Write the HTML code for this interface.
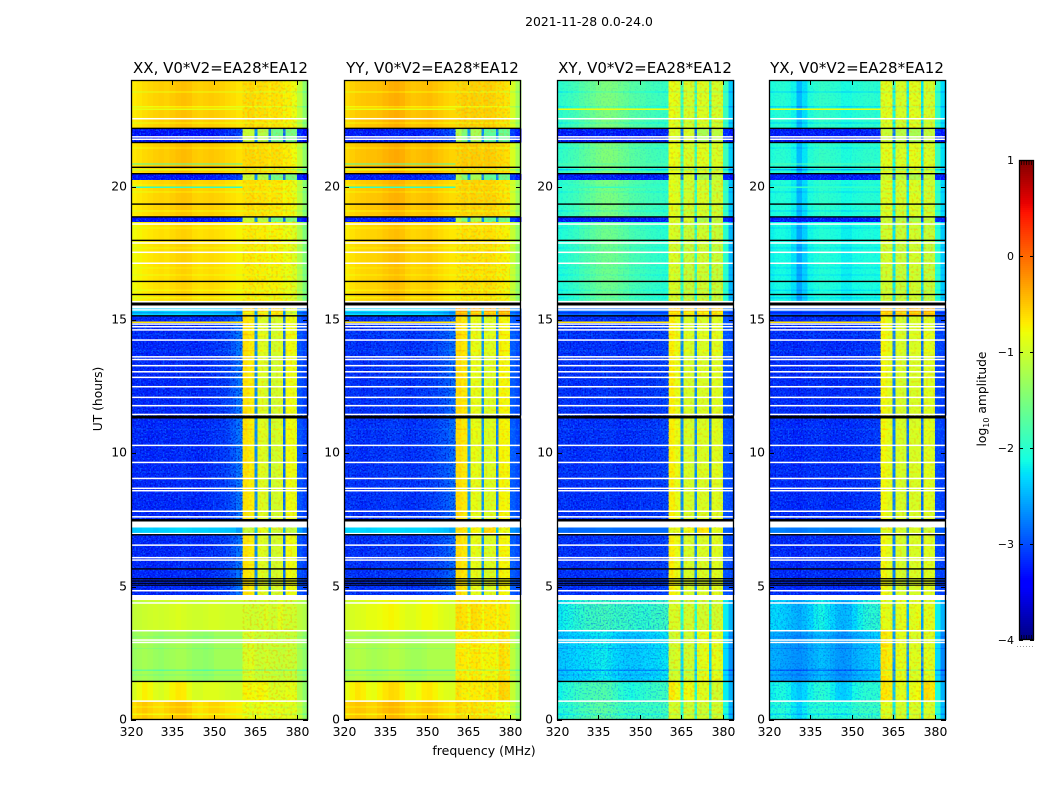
<!DOCTYPE html>
<html lang="en">
<head>
<meta charset="utf-8">
<title>2021-11-28 0.0-24.0</title>
<style>
html,body{margin:0;padding:0;background:#fff;width:1050px;height:800px;overflow:hidden}
svg{display:block}
text{font-family:"DejaVu Sans","Liberation Sans",sans-serif;fill:#000}
</style>
</head>
<body>
<svg id="chart" xmlns="http://www.w3.org/2000/svg" width="1050" height="800" viewBox="0 0 1050 800">
<defs>
<filter id="noiseAzure" x="0" y="0" width="100%" height="100%" color-interpolation-filters="sRGB"><feTurbulence type="fractalNoise" baseFrequency="0.6" numOctaves="1" seed="3"/><feColorMatrix type="matrix" values="0 0 0 0 0.05  0 0 0 0 0.5  0 0 0 0 1  7 0 0 0 -3.6"/></filter>
<filter id="noiseDark" x="0" y="0" width="100%" height="100%" color-interpolation-filters="sRGB"><feTurbulence type="fractalNoise" baseFrequency="0.6" numOctaves="1" seed="11"/><feColorMatrix type="matrix" values="0 0 0 0 0  0 0 0 0 0  0 0 0 0 0.72  7 0 0 0 -3.6"/></filter>
<filter id="noiseWarm" x="0" y="0" width="100%" height="100%" color-interpolation-filters="sRGB"><feTurbulence type="fractalNoise" baseFrequency="0.42" numOctaves="1" seed="23"/><feColorMatrix type="matrix" values="0 0 0 0 1  0 0 0 0 0.55  0 0 0 0 0  7 0 0 0 -3.6"/></filter>
<filter id="noiseCool" x="0" y="0" width="100%" height="100%" color-interpolation-filters="sRGB"><feTurbulence type="fractalNoise" baseFrequency="0.42" numOctaves="1" seed="37"/><feColorMatrix type="matrix" values="0 0 0 0 0.55  0 0 0 0 1  0 0 0 0 0.4  7 0 0 0 -3.6"/></filter>
</defs>
<rect width="1050" height="800" fill="#fff"/>
<text x="589" y="26" font-size="12.4" text-anchor="middle">2021-11-28 0.0-24.0</text>
<text x="0" y="0" font-size="12.3" text-anchor="middle" transform="translate(102 399) rotate(-90)">UT (hours)</text>
<text x="484" y="755" font-size="12.5" text-anchor="middle">frequency (MHz)</text>
<text x="0" y="0" font-size="12.3" text-anchor="middle" transform="translate(986 399) rotate(-90)">log<tspan font-size="8" dy="3">10</tspan><tspan dy="-3"> amplitude</tspan></text>
<g id="panels"></g>
<g id="colorbar"></g>
</svg>
<script>
// Frequency bin edges (MHz) of the heatmap columns
const freqEdges = [320,322,324,326,328,330,332,334,336,338,340,342,344,346,348,350,352,354,356,358,360.4,362.5,364.7,365.7,368,369.7,370.7,373,374.9,375.9,378,380,382,384];

// Axis tick labels
const freqTicks = [320,335,350,365,380];
const hourTicks = [0,5,10,15,20];
const colorTicks = [-4,-3,-2,-1,0,1];

// log10 amplitude per frequency bin, per observing state
const xxDay   = [-.66,-.62,-.58,-.55,-.52,-.5,-.52,-.48,-.44,-.42,-.44,-.5,-.52,-.5,-.48,-.5,-.52,-.56,-.58,-.62,-.58,-.55,-.62,-.58,-.6,-.66,-.6,-.62,-.72,-.68,-.78,-1.05,-1.35];
const xxGap   = [-3.3,-3.3,-3.28,-3.3,-3.32,-3.3,-3.28,-3.3,-3.3,-3.28,-3.3,-3.32,-3.3,-3.28,-3.3,-3.25,-3.2,-3.15,-3.1,-3.05,-1.05,-1.05,-2.7,-1.15,-1.2,-2.8,-1.6,-1.6,-2.9,-1.55,-1.55,-3.2,-3.35];
const xxQuiet = [-3.2,-3.18,-3.2,-3.22,-3.2,-3.18,-3.2,-3.2,-3.18,-3.15,-3.18,-3.2,-3.2,-3.18,-3.15,-3.12,-3.1,-3.05,-2.95,-2.8,-.65,-.72,-2.7,-.9,-.95,-2.75,-1,-.95,-2.85,-.8,-.85,-3,-3.1];
const xxCalA  = [-2.35,-2.35,-2.32,-2.35,-2.38,-2.35,-2.32,-2.32,-2.3,-2.3,-2.32,-2.35,-2.35,-2.35,-2.35,-2.38,-2.4,-2.42,-2.45,-2.6,-.55,-.6,-2.5,-.6,-.65,-2.5,-.55,-.55,-2.6,-.9,-.9,-2.7,-2.8];
const xxCalB  = [-2.4,-2.38,-2.35,-2.35,-2.38,-2.35,-2.35,-2.32,-2.3,-2.3,-2.32,-2.35,-2.35,-2.35,-2.38,-2.38,-2.4,-2.42,-2.45,-2.6,-1.05,-1.05,-2.4,-.85,-.9,-2.4,-1,-1,-2.5,-1.1,-1.1,-2.6,-2.8];
const xxLowA  = [-1.08,-1.05,-1.02,-1,-.98,-1,-.98,-.95,-.92,-.95,-.98,-1,-1,-.98,-.95,-.95,-.98,-1,-1,-1,-.98,-1,-1,-.98,-.92,-1,-1,-.88,-1,-.98,-1,-1.1,-1.18];
const xxLowB  = [-1.32,-1.28,-1.25,-1.28,-1.32,-1.35,-1.3,-1.28,-1.25,-1.25,-1.3,-1.35,-1.35,-1.38,-1.35,-1.28,-1.28,-1.28,-1.28,-1.28,-.95,-.9,-1,-1.02,-.98,-1.02,-1.02,-1.05,-1.05,-1.02,-1.05,-1.25,-1.38];
const xxLowC  = [-.95,-.82,-.72,-.78,-.9,-.95,-.88,-.75,-.68,-.7,-.85,-.95,-.95,-.9,-.9,-.9,-.95,-.98,-1,-1,-.75,-.78,-.8,-.75,-.8,-.92,-.92,-.9,-.92,-.85,-.88,-1.2,-1.4];
const xxLowD  = [-.62,-.55,-.5,-.55,-.6,-.62,-.56,-.5,-.46,-.46,-.52,-.62,-.66,-.62,-.56,-.56,-.6,-.65,-.68,-.72,-.8,-.85,-.85,-.8,-.82,-.88,-.85,-.85,-.88,-.88,-.88,-1.1,-1.35];

const yyDay   = [-.58,-.52,-.48,-.46,-.44,-.44,-.42,-.38,-.34,-.32,-.35,-.42,-.46,-.44,-.42,-.4,-.44,-.48,-.52,-.55,-.55,-.5,-.55,-.5,-.52,-.55,-.5,-.52,-.58,-.58,-.62,-.92,-1.2];
const yyGap   = [-3.25,-3.25,-3.22,-3.25,-3.28,-3.25,-3.25,-3.25,-3.22,-3.2,-3.25,-3.25,-3.25,-3.22,-3.2,-3.2,-3.15,-3.1,-3.05,-3,-1.2,-1.5,-2.6,-1.25,-1.25,-2.7,-1.7,-1.7,-2.7,-1.65,-1.65,-3.1,-3.3];
const yyQuiet = [-3.15,-3.12,-3.15,-3.18,-3.15,-3.12,-3.15,-3.12,-3.1,-3.1,-3.12,-3.15,-3.15,-3.12,-3.1,-3.08,-3.05,-3,-2.95,-2.85,-.62,-.7,-2.6,-.85,-.9,-2.65,-.95,-.92,-2.75,-.75,-.78,-2.95,-3.05];
const yyCalA  = [-2.3,-2.28,-2.3,-2.32,-2.3,-2.28,-2.3,-2.28,-2.25,-2.25,-2.28,-2.3,-2.3,-2.3,-2.28,-2.3,-2.35,-2.38,-2.45,-2.55,-.3,-.32,-2.3,-.4,-.42,-2.3,-.35,-.4,-2.4,-.3,-.32,-2.7,-2.8];
const yyCalB  = [-2.35,-2.32,-2.3,-2.32,-2.35,-2.32,-2.3,-2.28,-2.28,-2.28,-2.3,-2.32,-2.32,-2.32,-2.32,-2.35,-2.38,-2.4,-2.45,-2.55,-.62,-.68,-2.3,-.75,-.78,-2.3,-.6,-.65,-2.4,-.8,-.85,-2.65,-2.75];
const yyLowA  = [-.98,-.95,-.92,-.9,-.85,-.85,-.82,-.78,-.75,-.78,-.85,-.9,-.9,-.85,-.78,-.78,-.82,-.88,-.92,-.95,-.62,-.66,-.8,-.62,-.66,-.8,-.68,-.7,-.8,-.68,-.72,-1,-1.15];
const yyLowB  = [-1.22,-1.18,-1.15,-1.18,-1.22,-1.25,-1.22,-1.2,-1.15,-1.15,-1.2,-1.25,-1.28,-1.28,-1.25,-1.2,-1.2,-1.2,-1.2,-1.2,-.68,-.7,-.78,-.68,-.7,-.8,-.76,-.76,-.85,-.62,-.68,-1.1,-1.3];
const yyLowC  = [-.85,-.75,-.66,-.72,-.82,-.85,-.75,-.66,-.6,-.62,-.72,-.85,-.88,-.8,-.7,-.68,-.75,-.85,-.9,-.92,-.65,-.72,-.76,-.7,-.72,-.78,-.66,-.7,-.78,-.56,-.6,-1.05,-1.3];
const yyLowD  = [-.58,-.52,-.48,-.5,-.55,-.56,-.5,-.44,-.4,-.42,-.48,-.55,-.58,-.54,-.5,-.48,-.52,-.58,-.62,-.66,-.56,-.62,-.68,-.6,-.64,-.72,-.65,-.68,-.8,-.78,-.8,-1.05,-1.3];

const xyDay   = [-1.95,-1.9,-1.85,-1.8,-1.72,-1.65,-1.58,-1.5,-1.45,-1.45,-1.48,-1.55,-1.6,-1.68,-1.72,-1.75,-1.8,-1.82,-1.85,-1.88,-.8,-.85,-1.9,-.92,-.95,-1.9,-.88,-.9,-2,-.92,-.95,-1.85,-2.35];
const xyGap   = [-3.25,-3.25,-3.22,-3.25,-3.28,-3.25,-3.22,-3.25,-3.25,-3.22,-3.25,-3.28,-3.25,-3.22,-3.25,-3.25,-3.25,-3.22,-3.2,-3.2,-.92,-.95,-2.8,-.95,-1,-2.9,-1.25,-1.25,-2.9,-1.12,-1.12,-3.2,-3.3];
const xyQuiet = [-3.15,-3.12,-3.15,-3.18,-3.15,-3.15,-3.15,-3.15,-3.12,-3.12,-3.15,-3.18,-3.18,-3.15,-3.15,-3.12,-3.12,-3.1,-3.1,-3.05,-.72,-.85,-2.7,-.95,-1,-2.7,-.95,-.95,-2.8,-.9,-.95,-3,-3.05];
const xyCalA  = [-2.85,-2.85,-2.88,-2.9,-2.85,-2.85,-2.85,-2.82,-2.8,-2.82,-2.85,-2.85,-2.85,-2.88,-2.85,-2.85,-2.85,-2.85,-2.85,-2.85,-.5,-.5,-2.6,-.55,-.6,-2.6,-.55,-.55,-2.7,-.5,-.55,-2.8,-2.9];
const xyCalB  = [-2.85,-2.85,-2.88,-2.85,-2.85,-2.85,-2.85,-2.82,-2.82,-2.82,-2.85,-2.85,-2.85,-2.85,-2.85,-2.85,-2.85,-2.85,-2.85,-2.85,-.9,-.85,-2.6,-.8,-.85,-2.6,-.65,-.7,-2.7,-.85,-.9,-2.9,-2.95];
const xyLowA  = [-2.2,-2.15,-2.1,-2.02,-1.98,-1.92,-1.9,-1.88,-1.85,-1.88,-1.92,-1.92,-1.92,-1.95,-1.98,-1.98,-1.98,-1.92,-1.92,-1.9,-.95,-.95,-2.1,-1,-1,-2.1,-1,-1,-2.15,-1,-1,-2.2,-2.5];
const xyLowB  = [-2.38,-2.36,-2.32,-2.3,-2.28,-2.26,-2.22,-2.2,-2.18,-2.22,-2.28,-2.32,-2.36,-2.36,-2.36,-2.32,-2.3,-2.28,-2.25,-2.22,-1,-.95,-2.3,-1,-1,-2.3,-.9,-.85,-2.3,-.85,-.9,-2.3,-2.65];
const xyLowC  = [-2.15,-2.05,-2,-1.92,-1.88,-1.84,-1.8,-1.78,-1.76,-1.8,-1.9,-2,-2.05,-2.1,-2.05,-2,-1.95,-1.92,-1.9,-1.9,-.7,-.8,-2.1,-.8,-.85,-2.1,-.9,-.9,-2.2,-1,-1,-2.2,-2.5];
const xyLowD  = [-2.05,-2,-1.95,-1.88,-1.82,-1.78,-1.72,-1.68,-1.68,-1.72,-1.78,-1.85,-1.88,-1.9,-1.88,-1.88,-1.88,-1.88,-1.88,-1.85,-.95,-.98,-2,-1,-1,-2,-1,-1,-2,-.98,-1,-2.05,-2.5];

const yxDay   = [-2.05,-2,-1.98,-2.02,-2.12,-2.42,-2.22,-2.02,-1.95,-1.9,-1.92,-1.95,-1.98,-2.06,-2.06,-2,-1.98,-1.95,-1.95,-1.98,-.88,-.85,-2.1,-.92,-.92,-2.15,-.85,-.88,-2.2,-.92,-.95,-1.9,-2.25];
const yxGap   = [-3.25,-3.25,-3.22,-3.25,-3.28,-3.28,-3.25,-3.25,-3.25,-3.22,-3.25,-3.28,-3.25,-3.25,-3.25,-3.25,-3.25,-3.22,-3.2,-3.2,-1.05,-1.05,-2.8,-1.15,-1.15,-2.9,-1.25,-1.25,-2.95,-1.1,-1.1,-3.2,-3.3];
const yxQuiet = [-3.18,-3.15,-3.18,-3.18,-3.2,-3.22,-3.18,-3.15,-3.15,-3.15,-3.18,-3.18,-3.18,-3.18,-3.18,-3.15,-3.15,-3.12,-3.12,-3.1,-.78,-.88,-2.75,-.95,-1,-2.8,-.95,-.95,-2.85,-.9,-.95,-3.05,-3.1];
const yxCalA  = [-2.95,-2.95,-2.95,-2.95,-3,-3,-2.95,-2.95,-2.95,-2.92,-2.95,-2.95,-2.95,-2.95,-2.95,-2.95,-2.95,-2.92,-2.92,-2.92,-.45,-.42,-2.7,-.42,-.45,-2.7,-.35,-.38,-2.8,-.35,-.4,-2.9,-2.95];
const yxCalB  = [-2.75,-2.75,-2.75,-2.78,-2.8,-2.8,-2.78,-2.75,-2.75,-2.72,-2.75,-2.78,-2.78,-2.78,-2.78,-2.75,-2.75,-2.72,-2.72,-2.7,-.9,-.85,-2.6,-.95,-1,-2.6,-.95,-.95,-2.7,-1,-1,-2.9,-2.95];
const yxLowA  = [-2.28,-2.28,-2.32,-2.38,-2.46,-2.5,-2.42,-2.3,-2.18,-2.12,-2.2,-2.3,-2.42,-2.46,-2.42,-2.28,-2.16,-2.05,-2,-2,-.85,-.88,-2.5,-.9,-.85,-2.5,-.9,-.85,-2.6,-.88,-.9,-2.2,-2.5];
const yxLowB  = [-2.5,-2.5,-2.55,-2.58,-2.62,-2.65,-2.6,-2.52,-2.45,-2.4,-2.45,-2.52,-2.6,-2.62,-2.58,-2.5,-2.45,-2.4,-2.36,-2.32,-.65,-.72,-2.6,-.85,-.88,-2.6,-.9,-.9,-2.7,-.88,-.92,-2.3,-2.7];
const yxLowC  = [-2.18,-2.12,-2.08,-2.15,-2.28,-2.38,-2.3,-2.16,-2.05,-2,-2.05,-2.18,-2.32,-2.36,-2.28,-2.12,-2.05,-2,-2,-2,-.68,-.7,-2.4,-.88,-.9,-2.4,-.85,-.8,-2.5,-.62,-.7,-2.1,-2.5];
const yxLowD  = [-2.08,-2.04,-2,-2.06,-2.2,-2.32,-2.2,-2.04,-2,-1.98,-2,-2.04,-2.06,-2.08,-2.04,-1.95,-1.9,-1.88,-1.9,-1.9,-.88,-.9,-2.2,-.95,-.95,-2.2,-.92,-.95,-2.3,-.92,-.95,-2,-2.45];

// Time segments: [start hour, end hour, state, level offset]
const segmentStart = [24,22.19,21.66,20.47,20.25,18.86,18.68,15.71,15.65,15.55,15.44,15.15,11.41,11.3,7.54,7.44,7.22,6.97,4.69,4.5,3.35,1.45,0.71];
const segmentEnd   = [22.19,21.66,20.47,20.25,18.86,18.68,15.71,15.65,15.55,15.44,15.15,11.41,11.3,7.54,7.44,7.22,6.97,4.69,4.5,3.35,1.45,0.71,0];
const segmentState = ['day','gap','day','gap','day','gap','day','white','black','white','calA','quiet','black','quiet','black','white','calB','quiet','white','lowA','lowB','lowC','lowD'];
const segmentShift = [-.04,0,-.02,0,-.06,0,-.13,0,0,0,0,0,0,0,0,0,0,0,0,0,0,0,0];

// Row stripes: hour and level offset applied to a whole row
const stripeHours = [23.55,23,22.39,21.45,20.63,20.06,19.8,19.09,18.45,17.7,16.95,16.69,16.12,15.83,15.27,14.45,13.85,10.9,9.3,4.42,3.11,2.68,1.87,1.69,0.49,0.22];
const stripeShift = [-.28,-.22,-.24,-.18,-.4,-.12,-.2,-.22,-.16,-.14,-.14,-.16,-.12,-.14,-.25,.12,.12,.1,.1,-.15,-.2,-.14,-.38,-.22,-.2,-.22];

// Narrow interference rows: hour and level for the left part of the band
const hotHours  = [22.9,20.85,14.92,19.98];
const hotLevels = [-.85,-1.75,-.65,-1.95];

// Flagged rows (no data) drawn white, and grid-gap rows drawn black
const whiteHours = [22.55,21.87,21.78,18.6,17.89,17.54,17.13,15.69,15.38,14.85,14.75,14.63,14.25,13.62,13.52,13.29,13.06,12.85,12.5,12.1,11.79,11.46,10.3,9.66,9.06,8.69,8.6,7.83,7.62,6.99,6.56,6.09,6,4.85,4.39,3.35,3,2.91,.71];
const blackHours = [22.19,21.66,20.73,20.49,19.35,18.87,17.99,16.45,15.96,15.16,6.95,5.67,5.3,5.24,5.18,5.11,5.05,1.45];

const panelNames = ['XX','YY','XY','YX'];
const panelLefts = [131,344,557,769];
const titleCenters = [220.5,432.5,645,857];
const panelStates = [
  {day:xxDay,gap:xxGap,quiet:xxQuiet,calA:xxCalA,calB:xxCalB,lowA:xxLowA,lowB:xxLowB,lowC:xxLowC,lowD:xxLowD},
  {day:yyDay,gap:yyGap,quiet:yyQuiet,calA:yyCalA,calB:yyCalB,lowA:yyLowA,lowB:yyLowB,lowC:yyLowC,lowD:yyLowD},
  {day:xyDay,gap:xyGap,quiet:xyQuiet,calA:xyCalA,calB:xyCalB,lowA:xyLowA,lowB:xyLowB,lowC:xyLowC,lowD:xyLowD},
  {day:yxDay,gap:yxGap,quiet:yxQuiet,calA:yxCalA,calB:yxCalB,lowA:yxLowA,lowB:yxLowB,lowC:yxLowC,lowD:yxLowD}
];

const NS = 'http://www.w3.org/2000/svg';
const plotTop = 80, plotBottom = 720, plotWidth = 177;
const freqMin = 320, freqMax = 384, hourMax = 24, lineHours = 0.05;
const bandStart = 360.4, bandEnd = 380;
const barLeft = 1019, barWidth = 15, barTop = 160, barBottom = 640, levelMin = -4, levelMax = 1;

function yScale(h){ return plotBottom - (h / hourMax) * (plotBottom - plotTop); }
function xScale(left, f){ return left + (f - freqMin) / (freqMax - freqMin) * plotWidth; }
function barScale(v){ return barBottom - (v - levelMin) / (levelMax - levelMin) * (barBottom - barTop); }

function ramp(t, pts){
  for(let i = 1; i < pts.length; i++){
    if(t <= pts[i][0]){
      const a = pts[i-1], b = pts[i];
      return a[1] + (b[1] - a[1]) * (t - a[0]) / (b[0] - a[0]);
    }
  }
  return pts[pts.length-1][1];
}
function jet(v){
  const t = Math.max(0, Math.min(1, (v - levelMin) / (levelMax - levelMin)));
  const r = ramp(t, [[0,0],[.35,0],[.66,1],[.89,1],[1,.5]]);
  const g = ramp(t, [[0,0],[.125,0],[.375,1],[.64,1],[.91,0],[1,0]]);
  const b = ramp(t, [[0,.5],[.11,1],[.34,1],[.65,0],[1,0]]);
  return 'rgb(' + Math.round(r*255) + ',' + Math.round(g*255) + ',' + Math.round(b*255) + ')';
}
function make(tag, attrs, parent){
  const el = document.createElementNS(NS, tag);
  for(const k in attrs){ el.setAttribute(k, attrs[k]); }
  parent.appendChild(el);
  return el;
}
function stateAt(h){
  for(let i = 0; i < segmentStart.length; i++){
    if(h <= segmentStart[i] && h >= segmentEnd[i]){ return i; }
  }
  return 0;
}
function speckle(parent, x0, x1, y0, y1, filterId, opacity){
  const el = make('rect', {x:x0, y:y0, width:x1-x0, height:y1-y0, fill:'#000', filter:'url(#' + filterId + ')', opacity:opacity}, parent);
  
  
}

const panelsGroup = document.getElementById('panels');

panelNames.forEach(function(name, p){
  const left = panelLefts[p];
  const states = panelStates[p];
  const g = make('g', {'shape-rendering':'crispEdges'}, panelsGroup);
  
  

  // time segments
  segmentStart.forEach(function(h0, i){
    const state = segmentState[i];
    const y0 = yScale(h0), y1 = yScale(segmentEnd[i]);
    if(state === 'white' || state === 'black'){
      const band = make('rect', {x:left, y:y0, width:plotWidth, height:y1-y0, fill:state === 'white' ? '#fff' : '#000'}, g);
      
      
      return;
    }
    const values = states[state];
    values.forEach(function(v, c){
      const x0 = xScale(left, freqEdges[c]), x1 = xScale(left, freqEdges[c+1]);
      const cell = make('rect', {x:x0, y:y0, width:x1-x0+0.4, height:y1-y0, fill:jet(v + segmentShift[i])}, g);
      
      
    });
  });

  // row stripes
  stripeHours.forEach(function(h, i){
    const seg = stateAt(h);
    const values = states[segmentState[seg]];
    if(!values){ return; }
    values.forEach(function(v, c){
      const x0 = xScale(left, freqEdges[c]), x1 = xScale(left, freqEdges[c+1]);
      const cell = make('rect', {x:x0, y:yScale(h + lineHours/2), width:x1-x0+0.4, height:yScale(h - lineHours/2)-yScale(h + lineHours/2), fill:jet(v + segmentShift[seg] + stripeShift[i])}, g);
      
      
    });
  });

  // fine channel texture over the heatmap
  const xBand0 = xScale(left, bandStart), xBand1 = xScale(left, bandEnd), xEnd = left + plotWidth;
  segmentState.forEach(function(state, i){
    if(state === 'white' || state === 'black'){ return; }
    const y0 = yScale(segmentStart[i]), y1 = yScale(segmentEnd[i]);
    const isBlue = state === 'quiet' || state === 'gap';
    const isCross = p >= 2;
    if(isBlue){
      speckle(g, left, xBand0, y0, y1, 'noiseAzure', 0.5);
      speckle(g, left, xBand0, y0, y1, 'noiseDark', 0.55);
      speckle(g, xBand1, xEnd, y0, y1, 'noiseAzure', 0.5);
    } else if(isCross && state !== 'calA' && state !== 'calB'){
      speckle(g, left, xBand0, y0, y1, 'noiseAzure', state === 'day' ? 0.12 : 0.4);
      if(state === 'lowA' || state === 'lowB'){ speckle(g, left, xBand0, y0, y1, 'noiseDark', 0.18); }
    }
    speckle(g, xBand0, xBand1, y0, y1, 'noiseWarm', isBlue ? 0.22 : 0.28);
    speckle(g, xBand0, xBand1, y0, y1, 'noiseCool', isBlue ? 0.15 : 0.22);
  });

  // interference rows
  hotHours.forEach(function(h, i){
    const hot = make('rect', {x:left, y:yScale(h + lineHours/2), width:xScale(left, bandStart)-left, height:yScale(h - lineHours/2)-yScale(h + lineHours/2), fill:jet(hotLevels[i])}, g);
    
    
  });

  // flagged lines
  whiteHours.forEach(function(h){
    const line = make('rect', {x:left, y:yScale(h)-0.7, width:plotWidth, height:1.5, fill:'#fff', 'shape-rendering':'auto'}, g);
    
    
  });
  blackHours.forEach(function(h){
    const line = make('rect', {x:left, y:yScale(h)-0.6, width:plotWidth, height:(h > 5 && h < 5.4) ? 1 : 1.4, fill:'#000', 'shape-rendering':'auto'}, g);
    
    
  });

  // frame
  const frame = make('rect', {x:left+0.5, y:plotTop+0.5, width:plotWidth-1, height:plotBottom-plotTop-1, fill:'none', stroke:'#000', 'stroke-width':1.3}, panelsGroup);
  
  

  // title
  const title = make('text', {x:titleCenters[p], y:73, 'font-size':15, 'text-anchor':'middle'}, panelsGroup);
  
  
  title.textContent = name + ', V0*V2=EA28*EA12';

  // x ticks
  freqTicks.forEach(function(f){
    const px = Math.round(xScale(left, f)) + 0.5;
    const bottomTick = make('line', {x1:px, x2:px, y1:plotBottom, y2:plotBottom-5, stroke:'#000', 'stroke-width':1}, panelsGroup);
    
    
    const topTick = make('line', {x1:px, x2:px, y1:plotTop, y2:plotTop+5, stroke:'#000', 'stroke-width':1}, panelsGroup);
    
    
    const label = make('text', {x:px, y:736, 'font-size':12.4, 'text-anchor':'middle'}, panelsGroup);
    
    
    label.textContent = f;
  });

  // y ticks
  hourTicks.forEach(function(h){
    const py = Math.round(yScale(h)) + 0.5;
    const leftTick = make('line', {x1:left, x2:left+5, y1:py, y2:py, stroke:'#000', 'stroke-width':1}, panelsGroup);
    
    
    const rightTick = make('line', {x1:left+plotWidth, x2:left+plotWidth-5, y1:py, y2:py, stroke:'#000', 'stroke-width':1}, panelsGroup);
    
    
    const label = make('text', {x:left-4, y:py+3, 'font-size':12.4, 'text-anchor':'end'}, panelsGroup);
    
    
    label.textContent = h;
  });
});

// colorbar
const barGroup = document.getElementById('colorbar');
for(let py = barTop; py < barBottom; py += 2){
  const level = levelMax - (py + 1 - barTop) / (barBottom - barTop) * (levelMax - levelMin);
  const swatch = make('rect', {x:barLeft, y:py, width:barWidth, height:2, fill:jet(level), 'shape-rendering':'crispEdges'}, barGroup);
  
  
}
const barFrame = make('rect', {x:barLeft+0.5, y:barTop+0.5, width:barWidth-1, height:barBottom-barTop-1, fill:'none', stroke:'#000', 'stroke-width':1.3}, barGroup);


colorTicks.forEach(function(v){
  const py = Math.round(barScale(v));
  const label = make('text', {x:1014, y:py+4, 'font-size':11, 'text-anchor':'end'}, barGroup);
  
  
  label.textContent = v < 0 ? '\u2212' + Math.abs(v) : String(v);
  const tickA = make('line', {x1:barLeft, x2:barLeft+4, y1:py+0.5, y2:py+0.5, stroke:'#000', 'stroke-width':1}, barGroup);
  
  
  const tickB = make('line', {x1:barLeft+barWidth, x2:barLeft+barWidth-4, y1:py+0.5, y2:py+0.5, stroke:'#000', 'stroke-width':1}, barGroup);
  
  
});
for(let m = 0; m < 5; m++){
  const mx = barLeft + 2.5 + m * 2.5;
  const hatchTop = make('line', {x1:mx, x2:mx, y1:barTop, y2:barTop+5, stroke:'#000', 'stroke-width':0.7}, barGroup);
  
  
  const hatchBottom = make('line', {x1:mx, x2:mx, y1:barBottom, y2:barBottom-5, stroke:'#000', 'stroke-width':0.7}, barGroup);
  
  
}
const barDots = make('line', {x1:1017, x2:1035, y1:646.5, y2:646.5, stroke:'#999', 'stroke-width':1, 'stroke-dasharray':'1 2'}, barGroup);


</script>
</body>
</html>
